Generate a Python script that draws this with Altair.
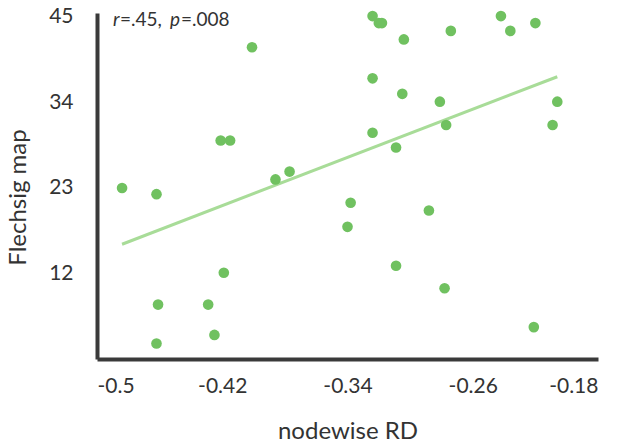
import altair as alt
import pandas as pd

rd = [-0.484, -0.462, -0.461, -0.462, -0.429, -0.425, -0.419, -0.421, -0.415, -0.401,
      -0.386, -0.377, -0.340, -0.338, -0.324, -0.324, -0.324, -0.320, -0.318, -0.304,
      -0.305, -0.309, -0.309, -0.288, -0.281, -0.277, -0.278, -0.274, -0.242, -0.236,
      -0.220, -0.221, -0.209, -0.206]
flechsig = [23.0, 22.2, 8.0, 3.0, 8.0, 4.1, 12.1, 29.1, 29.1, 41.1,
            24.1, 25.1, 18.0, 21.1, 30.1, 37.1, 45.1, 44.2, 44.2, 42.1,
            35.1, 28.2, 13.0, 20.1, 34.1, 31.1, 10.1, 43.2, 45.1, 43.2,
            44.2, 5.1, 31.1, 34.1]

x_ticks = [-0.5, -0.42, -0.34, -0.26, -0.18]
y_ticks = [12, 23, 34, 45]

ann_text = ["r", "=.45,", "p", "=.008"]
ann_style = ["italic", "normal", "italic", "normal"]
ann_x = [16, 23, 73, 84]

df = pd.DataFrame({"rd": rd, "fl": flechsig})

FONT = "Lato"
AX = "#3a3a3a"
TXT = "#333333"

x = alt.X("rd:Q", scale=alt.Scale(domain=[-0.5, -0.18], nice=False, zero=False),
          axis=alt.Axis(values=x_ticks, title="nodewise RD", ticks=False, grid=False,
                        labelExpr="toString(datum.value)", labelFontSize=21,
                        labelPadding=16, labelColor=TXT, labelFont=FONT,
                        domainColor=AX, domainWidth=4, titleFont=FONT,
                        titleFontSize=24, titleFontWeight="normal", titleColor=TXT,
                        titleBaseline="alphabetic", titleY=79))
y = alt.Y("fl:Q", scale=alt.Scale(domain=[1, 45.5], nice=False, zero=False),
          axis=alt.Axis(values=y_ticks, title="Flechsig map", ticks=False, grid=False,
                        labelFontSize=21, labelPadding=24, labelColor=TXT,
                        labelFont=FONT, domainColor=AX, domainWidth=4,
                        titleFont=FONT, titleFontSize=24, titleFontWeight="normal",
                        titleColor=TXT, titleAngle=270, titleBaseline="alphabetic",
                        titleAlign="center", titleX=-72, titleY=184))

points = alt.Chart(df).mark_circle(size=113, opacity=1, color="#70c160").encode(x=x, y=y)
reg = alt.Chart(df).transform_regression("rd", "fl").mark_line(
    color="#a8dc98", strokeWidth=3).encode(x=x, y=y)

ann_layers = []
for t, s, px in zip(ann_text, ann_style, ann_x):
    ann_layers.append(
        alt.Chart(pd.DataFrame({"t": [t]})).mark_text(
            align="left", baseline="alphabetic", fontSize=19, font=FONT,
            fontStyle=s, color=TXT).encode(
            x=alt.value(px), y=alt.value(13), text="t:N"))

chart = alt.layer(reg, points, *ann_layers).properties(
    width=501, height=346,
    autosize=alt.AutoSizeParams(type="none"),
    padding={"left": 97, "top": 13, "right": 24, "bottom": 86},
).configure_view(stroke=None)

chart.save("out.html", embed_options={"renderer": "svg", "actions": False})
